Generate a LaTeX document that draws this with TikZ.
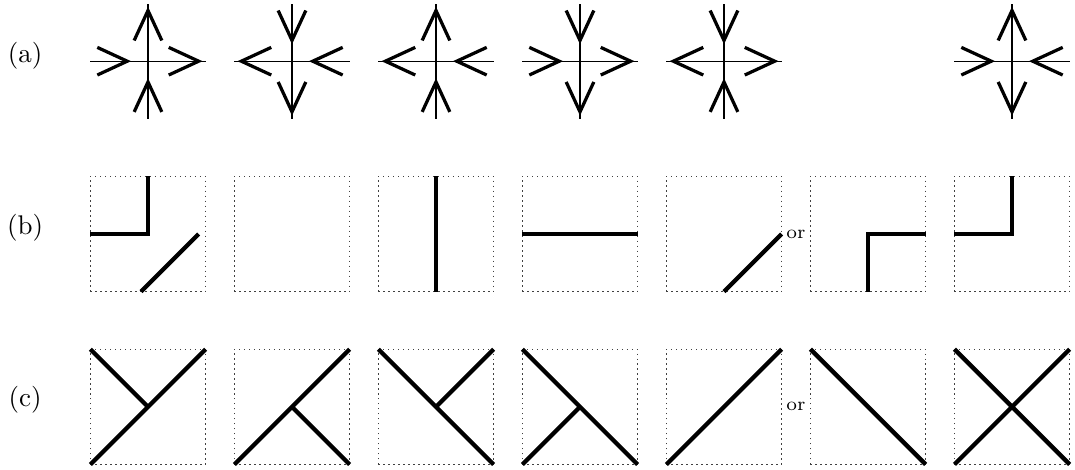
\documentclass[tikz,border=0pt]{standalone}
\usetikzlibrary{calc}

\begin{document}
\begin{tikzpicture}[
  axisline/.style={line width=0.5pt},
  headline/.style={line width=1.2pt},
  cellbox/.style={dash pattern=on 0.5pt off 1.35pt,line width=0.5pt,black!75},
  stroke/.style={line width=1.6pt},
]

\useasboundingbox (-1.927,-3.06) rectangle (12.07,3.047);

\node (la) at (-1.6,2.32) {(a)};
\node (lb) at (-1.6,0.08) {(b)};
\node (lc) at (-1.6,-2.16) {(c)};

% row (a): +1 head points outward, -1 inward
\foreach \i/\hr/\hu/\hl/\hd in {0/1/1/-1/-1,1/-1/-1/1/1,2/-1/1/1/-1,3/1/-1/-1/1,4/1/-1/1/-1,6/-1/1/-1/1}{
  \begin{scope}[shift={(1.875*\i,2.25)}]
    \draw[axisline] (-0.75,0) -- (0.75,0);
    \draw[axisline] (0,-0.75) -- (0,0.75);
    \foreach \ang/\s in {0/\hr,90/\hu,180/\hl,270/\hd}
      \draw[headline,rotate=\ang] ({0.465-0.195*(\s)},0.18) -- ({0.465+0.195*(\s)},0) -- ({0.465-0.195*(\s)},-0.18);
  \end{scope}
}

% cells
\foreach \i in {0,...,6}{
  \draw[cellbox] (1.875*\i-0.75,-0.75) rectangle ++(1.5,1.5);
  \draw[cellbox] (1.875*\i-0.75,-3) rectangle ++(1.5,1.5);
}

% row (b)
\draw[stroke] (-0.75,0) -- (0,0) -- (0,0.75);
\draw[stroke] (-0.09,-0.75) -- (0.66,0);
\draw[stroke] (3.75,-0.75) -- (3.75,0.75);
\draw[stroke] (4.875,0) -- (6.375,0);
\draw[stroke] (7.5,-0.75) -- (8.25,0);
\node[font=\scriptsize] (orb) at (8.4375,0) {or};
\draw[stroke] (9.375,-0.75) -- (9.375,0) -- (10.125,0);
\draw[stroke] (10.5,0) -- (11.25,0) -- (11.25,0.75);

% row (c)
\draw[stroke] (-0.75,-1.5) -- (0,-2.25);
\draw[stroke] (-0.75,-3) -- (0.75,-1.5);
\draw[stroke] (1.125,-3) -- (2.625,-1.5);
\draw[stroke] (1.875,-2.25) -- (2.625,-3);
\draw[stroke] (3,-1.5) -- (4.5,-3);
\draw[stroke] (3.75,-2.25) -- (4.5,-1.5);
\draw[stroke] (4.875,-1.5) -- (6.375,-3);
\draw[stroke] (5.625,-2.25) -- (4.875,-3);
\draw[stroke] (6.75,-3) -- (8.25,-1.5);
\node[font=\scriptsize] (orc) at (8.4375,-2.25) {or};
\draw[stroke] (8.625,-1.5) -- (10.125,-3);
\draw[stroke] (10.5,-3) -- (12,-1.5);
\draw[stroke] (10.5,-1.5) -- (12,-3);

\end{tikzpicture}
\end{document}
